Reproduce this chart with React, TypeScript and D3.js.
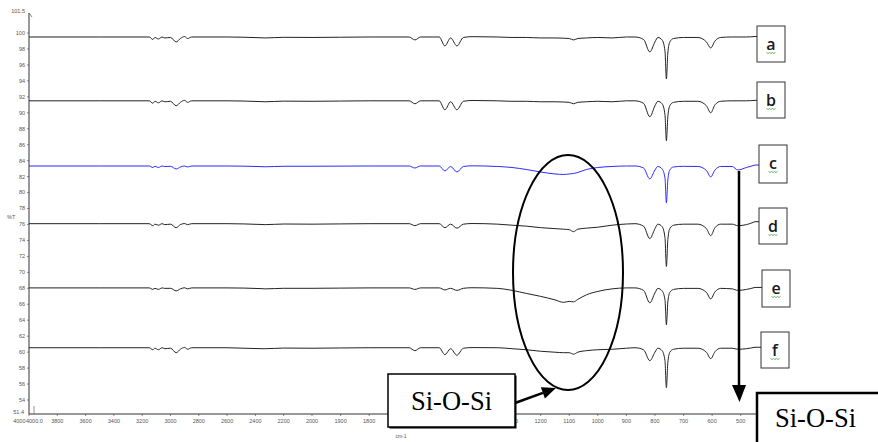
import React from "react";
import * as d3 from "d3";

// ---------- DATA ----------
const wavenumbers = [
  4000, 3500, 3150, 3125, 3110, 3085, 3060, 3040, 3000, 2960, 2930, 2900, 2880, 2850,
  2600, 2360, 2330, 2200, 2000, 1800, 1660, 1640, 1620, 1555, 1535, 1515, 1493, 1470,
  1440, 1350, 1300, 1250, 1200, 1150, 1120, 1100, 1085, 1070, 1040, 1000, 950, 900,
  870, 840, 818, 800, 790, 775, 765, 760, 755, 748, 735, 700, 650, 620, 605, 590,
  570, 530, 510, 480, 450,
];

const specA = [
  99.5, 99.5, 99.5, 99.19, 99.44, 99.25, 99.5, 99.38, 99.44, 98.88, 99.31, 99.56, 99.31, 99.5,
  99.5, 99.4, 99.38, 99.46, 99.44, 99.5, 99.5, 99.13, 99.5, 99.5, 98.38, 99.38, 98.38, 99.44,
  99.54, 99.5, 99.44, 99.44, 99.38, 99.38, 99.35, 99.31, 99.13, 99.31, 99.38, 99.44, 99.38, 99.5,
  99.5, 99.19, 97.63, 98.88, 99.44, 99.13, 97.75, 94.25, 97.5, 98.88, 99.31, 99.44, 99.44, 98.88, 98.13, 99.0,
  99.44, 99.5, 99.5, 99.5, 99.56,
];
const specB = [
  91.5, 91.5, 91.5, 91.19, 91.44, 91.25, 91.5, 91.38, 91.44, 90.88, 91.31, 91.56, 91.31, 91.5,
  91.5, 91.4, 91.38, 91.46, 91.44, 91.5, 91.5, 91.13, 91.5, 91.5, 90.38, 91.38, 90.38, 91.44,
  91.54, 91.5, 91.44, 91.44, 91.38, 91.38, 91.35, 91.31, 91.13, 91.31, 91.38, 91.44, 91.38, 91.5,
  91.5, 91.19, 89.5, 90.88, 91.44, 91.13, 89.75, 86.5, 89.5, 90.88, 91.31, 91.44, 91.44, 90.88, 90.0, 91.0,
  91.44, 91.5, 91.5, 91.5, 91.56,
];
const specC = [
  83.33, 83.33, 83.33, 83.14, 83.29, 83.14, 83.33, 83.27, 83.29, 82.96, 83.21, 83.33, 83.21, 83.33,
  83.33, 83.25, 83.23, 83.3, 83.3, 83.33, 83.33, 83.08, 83.33, 83.33, 82.71, 83.27, 82.58, 83.27,
  83.35, 83.27, 83.14, 82.89, 82.58, 82.33, 82.27, 82.33, 82.39, 82.52, 82.89, 83.14, 83.27, 83.33,
  83.33, 83.08, 81.71, 82.83, 83.27, 82.96, 81.83, 78.71, 81.58, 82.83, 83.21, 83.29, 83.27, 82.77, 81.96, 82.83,
  83.27, 83.27, 82.83, 83.14, 83.45,
];
const specD = [
  76.1, 76.1, 76.1, 75.85, 76.04, 75.91, 76.1, 75.98, 76.04, 75.6, 75.98, 76.12, 75.98, 76.1,
  76.1, 76.0, 75.98, 76.06, 76.04, 76.1, 76.1, 75.85, 76.1, 76.1, 75.6, 76.04, 75.54, 76.04,
  76.12, 76.04, 75.91, 75.79, 75.6, 75.48, 75.41, 75.35, 75.1, 75.41, 75.54, 75.66, 75.91, 76.06,
  76.1, 75.79, 74.23, 75.48, 76.04, 75.73, 74.35, 70.73, 74.1, 75.48, 75.91, 76.04, 76.04, 75.48, 74.6, 75.6,
  76.04, 76.04, 75.85, 75.98, 76.35,
];
const specE = [
  68.05, 68.05, 68.05, 67.86, 68.0, 67.86, 68.05, 67.99, 68.0, 67.68, 67.93, 68.07, 67.93, 68.05,
  68.05, 67.96, 67.93, 68.0, 68.0, 68.05, 68.05, 67.86, 68.05, 68.05, 67.8, 68.0, 67.74, 68.0,
  68.07, 67.99, 67.74, 67.36, 66.99, 66.55, 66.24, 66.36, 66.3, 66.61, 67.18, 67.61, 67.93, 68.05,
  68.05, 67.74, 66.18, 67.43, 67.99, 67.68, 66.55, 63.43, 66.3, 67.49, 67.86, 67.99, 67.99, 67.49, 66.68, 67.55,
  67.99, 67.93, 67.74, 67.86, 68.11,
];
const specF = [
  60.55, 60.55, 60.55, 60.3, 60.49, 60.3, 60.55, 60.43, 60.49, 59.93, 60.36, 60.59, 60.36, 60.55,
  60.55, 60.43, 60.43, 60.51, 60.49, 60.55, 60.55, 60.18, 60.55, 60.55, 59.68, 60.43, 59.61, 60.49,
  60.57, 60.55, 60.43, 60.3, 60.11, 59.99, 59.93, 59.93, 59.74, 59.99, 60.18, 60.3, 60.36, 60.49,
  60.55, 60.3, 58.93, 59.99, 60.49, 60.18, 58.93, 55.55, 58.68, 59.99, 60.36, 60.49, 60.49, 59.99, 59.18, 60.05,
  60.49, 60.49, 60.36, 60.43, 60.61,
];

const seriesNames = ["a", "b", "c", "d", "e", "f"];
const seriesValues = [specA, specB, specC, specD, specE, specF];

const yTicks = [54, 56, 58, 60, 62, 64, 66, 68, 70, 72, 74, 76, 78, 80, 82, 84, 86, 88, 90, 92, 94, 96, 98, 100];
const yTopLabel = "101.5";
const yBottomLabel = "51.4";
const xTicks = [4000, 3800, 3600, 3400, 3200, 3000, 2800, 2600, 2400, 2200, 2000, 1900, 1800, 1700, 1600, 1500, 1400, 1300, 1200, 1100, 1000, 900, 800, 700, 600, 500];
const xStartLabel = "4000.0";
const xUnit = "cm-1";
const yUnit = "%T";
const annotationText = "Si-O-Si";

// ---------- LAYOUT / STYLE ----------
const W = 878;
const H = 442;
const seriesColors = ["#222", "#222", "#2b2bff", "#222", "#222", "#222"];
const boxLefts = [757, 757, 759, 759, 762, 761];
const boxTops = [26, 82, 145, 208, 270, 332];
const boxHeights = [36, 36, 38, 36, 37, 36];
const boxW = 28;

export default function App() {
  const x = d3.scaleLinear().domain([4000, 2000, 450]).range([29, 312, 755]);
  const y = d3.scaleLinear().domain([54, 100]).range([400, 33]);
  const axisX = 29;
  const axisTop = 13;
  const axisBottom = 414;
  const axisRight = 756;

  const line = d3
    .line<[number, number]>()
    .x((d) => x(d[0]))
    .y((d) => y(d[1]))
    .curve(d3.curveMonotoneX);

  const tickFont = "'Liberation Sans', Arial, sans-serif";

  // arrow from left box to ellipse
  const a1 = { x: 515, y: 403 };
  const a2 = { x: 556, y: 388 };
  const ang = Math.atan2(a2.y - a1.y, a2.x - a1.x);
  const ahL = 14, ahW = 6;
  const baseX = a2.x - ahL * Math.cos(ang);
  const baseY = a2.y - ahL * Math.sin(ang);
  const px = -Math.sin(ang) * ahW, py = Math.cos(ang) * ahW;

  return (
    <svg width={W} height={H} style={{ position: "absolute", left: 0, top: 0, background: "#fff" }}>
      <rect x={0} y={0} width={W} height={H} fill="#fff" />

      {/* axes */}
      <line x1={axisX} y1={axisTop} x2={axisX} y2={axisBottom} stroke="#333" strokeWidth={1} />
      <line x1={axisX} y1={axisBottom} x2={axisRight} y2={axisBottom} stroke="#333" strokeWidth={1} />
      <path d={`M${axisX},${axisTop} L${axisX + 3},${axisTop + 4}`} stroke="#555" strokeWidth={0.7} fill="none" />
      <line x1={34} y1={406} x2={34} y2={414} stroke="#666" strokeWidth={0.7} />

      {yTicks.map((t) => (
        <g key={"yt" + t}>
          <line x1={axisX - 2} x2={axisX} y1={y(t)} y2={y(t)} stroke="#555" strokeWidth={0.7} />
          <text x={axisX - 4} y={y(t)} dy="0.35em" textAnchor="end" fontFamily={tickFont} fontSize={5.5} fill="#555">
            {t}
          </text>
        </g>
      ))}
      <text x={axisX - 4} y={axisTop - 2} dy="0.35em" textAnchor="end" fontFamily={tickFont} fontSize={5.5} fill="#555">
        {yTopLabel}
      </text>
      <text x={axisX - 5} y={axisBottom - 2} dy="0.35em" textAnchor="end" fontFamily={tickFont} fontSize={5.5} fill="#555">
        {yBottomLabel}
      </text>
      <text x={7} y={217} dy="0.35em" fontFamily={tickFont} fontSize={5.5} fill="#555">
        {yUnit}
      </text>

      {xTicks.map((t, i) => (
        <g key={"xt" + t}>
          <line x1={x(t)} x2={x(t)} y1={axisBottom} y2={axisBottom + 2} stroke="#555" strokeWidth={0.7} />
          <text
            x={i === 0 ? x(t) - 3.5 : x(t)}
            y={421}
            dy="0.35em"
            textAnchor={i === 0 ? "end" : "middle"}
            fontFamily={tickFont}
            fontSize={5.5}
            fill="#555"
          >
            {t}
          </text>
        </g>
      ))}
      <text x={x(4000) - 3} y={421} dy="0.35em" textAnchor="start" fontFamily={tickFont} fontSize={5.5} fill="#555">
        {xStartLabel}
      </text>

      {/* spectra */}
      {seriesValues.map((vals, i) => {
        const pts: [number, number][] = wavenumbers.map((w, k) => [w, vals[k]]);
        const last = pts[pts.length - 1];
        return (
          <g key={"s" + i}>
            <path d={line(pts) || ""} fill="none" stroke={seriesColors[i]} strokeWidth={1} />
            <line x1={x(last[0])} y1={y(last[1])} x2={boxLefts[i]} y2={y(last[1])} stroke={seriesColors[i]} strokeWidth={1} />
          </g>
        );
      })}

      {/* label boxes */}
      {seriesNames.map((n, i) => {
        const cx = boxLefts[i] + boxW / 2;
        const base = boxTops[i] + 24;
        return (
          <g key={"b" + n}>
            <rect x={boxLefts[i]} y={boxTops[i]} width={boxW} height={boxHeights[i]} fill="#fff" stroke="#333" strokeWidth={1} />
            <text x={cx} y={base} textAnchor="middle" fontFamily="'Open Sans', Lato, sans-serif" fontWeight={600} fontSize={16} fill="#1a1a1a">
              {n}
            </text>
            <path
              d={`M${cx - 4.5},${base + 2.5} l1.5,1 l1.5,-1 l1.5,1 l1.5,-1 l1.5,1 l1.5,-1`}
              fill="none"
              stroke="#3aa53a"
              strokeWidth={0.8}
            />
          </g>
        );
      })}

      {/* ellipse */}
      <ellipse cx={568} cy={272.5} rx={55} ry={117.5} fill="none" stroke="#000" strokeWidth={2} />

      {/* vertical arrow */}
      <line x1={739} y1={171} x2={739} y2={388} stroke="#000" strokeWidth={2.5} />
      <path d={`M${732},${385} L${746},${385} L${739.5},${402} Z`} fill="#000" />

      {/* left annotation box */}
      <rect x={389.5} y={375.5} width={127} height={53} fill="#000" />
      <rect x={388} y={374} width={127} height={53} fill="#fff" stroke="#000" strokeWidth={1.5} />
      <text x={451.5} y={410} textAnchor="middle" fontFamily="'Liberation Serif', 'Times New Roman', serif" fontSize={26.5} fill="#000">
        {annotationText}
      </text>
      <text x={401} y={438} textAnchor="middle" fontFamily={tickFont} fontSize={5} fill="#555">
        {xUnit}
      </text>

      {/* arrow to ellipse */}
      <line x1={a1.x} y1={a1.y} x2={baseX} y2={baseY} stroke="#000" strokeWidth={2.5} />
      <path d={`M${a2.x},${a2.y} L${baseX + px},${baseY + py} L${baseX - px},${baseY - py} Z`} fill="#000" />

      {/* right annotation box */}
      <rect x={757} y={393} width={130} height={60} fill="#fff" stroke="#000" strokeWidth={2.5} />
      <text x={775} y={427} fontFamily="'Liberation Serif', 'Times New Roman', serif" fontSize={26.5} fill="#000">
        {annotationText}
      </text>
    </svg>
  );
}
